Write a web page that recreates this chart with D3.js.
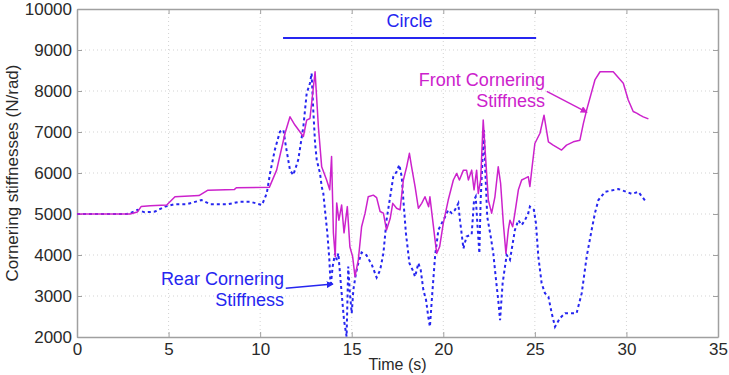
<!DOCTYPE html>
<html>
<head>
<meta charset="utf-8">
<script src="https://cdn.jsdelivr.net/npm/d3@7"></script>
<style>
  body { margin: 0; background: #fff; }
  svg text { font-family: "Liberation Sans", Arial, sans-serif; }
</style>
</head>
<body>
<div id="chart"></div>
<script>
// Front and rear cornering stiffness estimates vs time
var frontTime = [0, 2.9, 3.3, 3.5, 4.0, 4.9, 5.35, 6.66, 7.15, 8.6, 8.7, 10.5, 10.9, 11.36, 11.63, 11.9,
    12.36, 12.54, 12.72, 13.0, 13.18, 13.36, 13.63, 13.8, 13.9, 14.0, 14.1, 14.18, 14.3, 14.45, 14.58,
    14.76, 14.9, 15.05, 15.18, 15.36, 15.54, 15.73, 15.9, 16.18, 16.36, 16.55, 16.73, 16.9, 17.1, 17.24,
    17.45, 17.64, 17.82, 18.0, 18.15, 18.27, 18.46, 18.64, 18.82, 19.0, 19.2, 19.27, 19.4, 19.55, 19.64,
    19.8, 20.0, 20.27, 20.55, 20.73, 20.88, 21.1, 21.27, 21.37, 21.55, 21.68, 21.82, 21.91, 22.04, 22.18,
    22.33, 22.46, 22.64, 22.82, 23.0, 23.13, 23.28, 23.42, 23.55, 23.64, 23.79, 23.91, 24.1, 24.28, 24.46,
    24.64, 24.73, 24.83, 25.0, 25.28, 25.5, 25.74, 26.0, 26.46, 26.73, 27.1, 27.46, 27.65, 27.83, 28.28,
    28.56, 29.28, 29.83, 30.1, 30.37, 30.56, 30.74, 30.92, 31.2];
var frontStiff = [5000, 5000, 5050, 5180, 5200, 5220, 5420, 5450, 5580, 5600, 5640, 5650, 6070, 6970, 7370, 7170,
    6890, 7290, 7330, 8470, 7130, 6150, 5830, 5590, 6400, 4540, 3960, 5270, 4850, 5220, 4540,
    5180, 4200, 3960, 3470, 3880, 4690, 5020, 5420, 5460, 5400, 5060, 5020, 4610, 4890, 5260,
    5140, 5100, 5830, 6150, 6480, 6150, 5670, 5140, 5260, 5420, 5180, 5420, 4930, 4370, 4040,
    4200, 4770, 5340, 5830, 5990, 5830, 6070, 6070, 5830, 6070, 5590, 6070, 5500, 5830, 7290,
    6240, 5340, 5020, 5420, 6150, 5750, 4770, 4040, 4610, 4850, 4690, 5020, 5590, 5830, 5870,
    5910, 5670, 6070, 6720, 6970, 7410, 6760, 6680, 6560, 6680, 6760, 6800, 7210, 7540, 8270,
    8470, 8470, 8190, 7780, 7500, 7460, 7410, 7370, 7320];

var rearTime = [0, 2.7, 2.9, 3.3, 3.7, 4.26, 4.8, 5.35, 6.0, 6.8, 7.26, 8.27, 8.9, 9.45, 10.1, 10.36, 10.54,
    10.8, 11.08, 11.27, 11.41, 11.63, 11.81, 12.08, 12.36, 12.54, 12.72, 12.81, 12.9, 13.0, 13.09, 13.27,
    13.36, 13.45, 13.54, 13.67, 13.78, 13.85, 13.96, 14.09, 14.18, 14.27, 14.36, 14.45, 14.58, 14.72,
    14.81, 14.9, 15.0, 15.09, 15.23, 15.36, 15.54, 15.8, 16.1, 16.36, 16.55, 16.73, 16.9, 17.1, 17.27,
    17.45, 17.6, 17.73, 17.82, 17.96, 18.15, 18.33, 18.46, 18.64, 18.77, 18.91, 19.06, 19.18, 19.27,
    19.4, 19.55, 19.73, 19.91, 20.1, 20.27, 20.46, 20.64, 20.82, 20.91, 21.0, 21.1, 21.27, 21.55, 21.68,
    21.77, 21.86, 21.97, 22.04, 22.15, 22.22, 22.3, 22.4, 22.59, 22.73, 22.88, 23.0, 23.1, 23.15, 23.24,
    23.37, 23.46, 23.64, 23.79, 23.91, 24.1, 24.28, 24.46, 24.64, 24.73, 24.95, 25.06, 25.19, 25.37,
    25.55, 25.74, 25.92, 26.1, 26.37, 26.65, 27.28, 27.56, 27.83, 28.1, 28.28, 28.47, 28.83, 29.56,
    30.0, 30.29, 30.65, 31.1];
var rearStiff = [5000, 5000, 5020, 5100, 5040, 5060, 5180, 5240, 5240, 5340, 5240, 5240, 5300, 5300, 5220, 5500, 5990,
    6560, 7010, 7050, 6640, 6070, 5950, 6320, 7130, 7940, 8190, 8430, 7540, 6720, 6320, 5990,
    5670, 5500, 5100, 4530, 3880, 3230, 3720, 4040, 3880, 4040, 3550, 3070, 2410, 2010,
    3720, 3070, 2580, 3150, 3550, 3800, 4060, 4000, 3760, 3450, 3630, 4040, 4850, 5420, 5910,
    6030, 6200, 5910, 5340, 4530, 3800, 3630, 3470, 3800, 3630, 3150, 2900, 2490, 2250,
    3070, 3960, 4610, 4770, 4930, 5100, 5020, 5100, 5260, 4850, 4530, 4160, 4450, 4500, 5340,
    5420, 4770, 4040, 5340, 6400, 7050, 5990, 4930, 4450, 4040, 3390, 2900, 2410, 2740, 3310,
    3720, 4000, 3880, 4280, 4610, 4850, 4730, 4850, 5020, 5180, 5100, 4770, 3960, 3310,
    3070, 2980, 2580, 2250, 2460, 2580, 2580, 3070, 3960, 4610, 5020, 5340, 5540, 5610,
    5540, 5490, 5540, 5280];

var xTicks = [0, 5, 10, 15, 20, 25, 30, 35];
var yTicks = [2000, 3000, 4000, 5000, 6000, 7000, 8000, 9000, 10000];

// "Circle" manoeuvre interval
var circleSpan = [11.25, 25.07];
var circleLevel = 9290;

var width = 729, height = 375;
var margin = {top: 9, right: 11, bottom: 38, left: 77};
var innerW = width - margin.left - margin.right;
var innerH = height - margin.top - margin.bottom;

var magenta = "#cc22cc";
var blue = "#2626f0";

var svg = d3.select("#chart").append("svg")
    .attr("width", width)
    .attr("height", height);

var g = svg.append("g")
    .attr("transform", "translate(" + margin.left + "," + margin.top + ")");

var x = d3.scaleLinear().domain([0, 35]).range([0, innerW]);
var y = d3.scaleLinear().domain([2000, 10000]).range([innerH, 0]);

// dotted grid
g.append("g").selectAll("line")
    .data(xTicks.slice(1, -1))
    .enter().append("line")
    .attr("x1", function (d) { return x(d); })
    .attr("x2", function (d) { return x(d); })
    .attr("y1", 0)
    .attr("y2", innerH)
    .attr("stroke", "#c8c8c8")
    .attr("stroke-width", 0.8)
    .attr("stroke-dasharray", "1,3");

g.append("g").selectAll("line")
    .data(yTicks.slice(1, -1))
    .enter().append("line")
    .attr("x1", 0)
    .attr("x2", innerW)
    .attr("y1", function (d) { return y(d); })
    .attr("y2", function (d) { return y(d); })
    .attr("stroke", "#c8c8c8")
    .attr("stroke-width", 0.8)
    .attr("stroke-dasharray", "1,3");

// axes with inward ticks on all four sides
var axisColor = "#a0a0a0";
function styleAxis(sel) {
    sel.select(".domain").attr("stroke", axisColor).attr("stroke-width", 1.5);
    sel.selectAll(".tick line").attr("stroke", axisColor);
    sel.selectAll("text")
        .attr("fill", "#2a2a2a")
        .style("font-size", "17px");
}

var xAxis = g.append("g")
    .attr("transform", "translate(0," + innerH + ")")
    .call(d3.axisBottom(x).tickValues(xTicks).tickSizeInner(-5).tickSizeOuter(0).tickPadding(6));
styleAxis(xAxis);

var xTop = g.append("g")
    .call(d3.axisTop(x).tickValues(xTicks).tickSizeInner(-5).tickSizeOuter(0).tickFormat(""));
styleAxis(xTop);

var yAxis = g.append("g")
    .call(d3.axisLeft(y).tickValues(yTicks).tickFormat(d3.format("d"))
        .tickSizeInner(-5).tickSizeOuter(0).tickPadding(5));
styleAxis(yAxis);

var yRight = g.append("g")
    .attr("transform", "translate(" + innerW + ",0)")
    .call(d3.axisRight(y).tickValues(yTicks).tickSizeInner(-5).tickSizeOuter(0).tickFormat(""));
styleAxis(yRight);

// axis titles
svg.append("text")
    .attr("x", margin.left + innerW / 2)
    .attr("y", 370)
    .attr("text-anchor", "middle")
    .attr("fill", "#2a2a2a")
    .style("font-size", "16px")
    .text("Time (s)");

svg.append("text")
    .attr("transform", "translate(18," + (margin.top + innerH / 2) + ") rotate(-90)")
    .attr("text-anchor", "middle")
    .attr("fill", "#2a2a2a")
    .style("font-size", "17px")
    .text("Cornering stiffnesses (N/rad)");

// series
var line = d3.line()
    .x(function (d) { return x(d[0]); })
    .y(function (d) { return y(d[1]); });

var rear = d3.zip(rearTime, rearStiff);
var front = d3.zip(frontTime, frontStiff);

g.append("path")
    .datum(rear)
    .attr("fill", "none")
    .attr("stroke", blue)
    .attr("stroke-width", 2)
    .attr("stroke-dasharray", "3,3")
    .attr("d", line);

g.append("path")
    .datum(front)
    .attr("fill", "none")
    .attr("stroke", magenta)
    .attr("stroke-width", 1.5)
    .attr("stroke-linejoin", "round")
    .attr("d", line);

// circle interval marker
g.append("line")
    .attr("x1", x(circleSpan[0]))
    .attr("x2", x(circleSpan[1]))
    .attr("y1", y(circleLevel))
    .attr("y2", y(circleLevel))
    .attr("stroke", blue)
    .attr("stroke-width", 2);

g.append("text")
    .attr("x", x((circleSpan[0] + circleSpan[1]) / 2))
    .attr("y", y(9550))
    .attr("text-anchor", "middle")
    .attr("fill", blue)
    .style("font-size", "18px")
    .text("Circle");

// annotations with arrows
var defs = svg.append("defs");
function marker(id, color) {
    defs.append("marker")
        .attr("id", id)
        .attr("viewBox", "0 0 10 10")
        .attr("refX", 9)
        .attr("refY", 5)
        .attr("markerWidth", 7)
        .attr("markerHeight", 7)
        .attr("markerUnits", "userSpaceOnUse")
        .attr("orient", "auto")
        .append("path")
        .attr("d", "M0,0 L10,5 L0,10 z")
        .attr("fill", color);
}
marker("arrowFront", magenta);
marker("arrowRear", blue);

function annotate(lines, tx, tv, fromT, fromV, toT, toV, color, arrowId) {
    var t = g.append("text")
        .attr("text-anchor", "end")
        .attr("fill", color)
        .style("font-size", "18px");
    lines.forEach(function (s, i) {
        t.append("tspan")
            .attr("x", x(tx))
            .attr("y", y(tv) + i * 21)
            .text(s);
    });
    g.append("line")
        .attr("x1", x(fromT))
        .attr("y1", y(fromV))
        .attr("x2", x(toT))
        .attr("y2", y(toV))
        .attr("stroke", color)
        .attr("stroke-width", 1.5)
        .attr("marker-end", "url(#" + arrowId + ")");
}

annotate(["Front Cornering", "Stiffness"], 25.55, 8110, 25.65, 7990, 27.85, 7480, magenta, "arrowFront");
annotate(["Rear Cornering", "Stiffness"], 11.3, 3270, 11.4, 3190, 13.98, 3290, blue, "arrowRear");
</script>
</body>
</html>
